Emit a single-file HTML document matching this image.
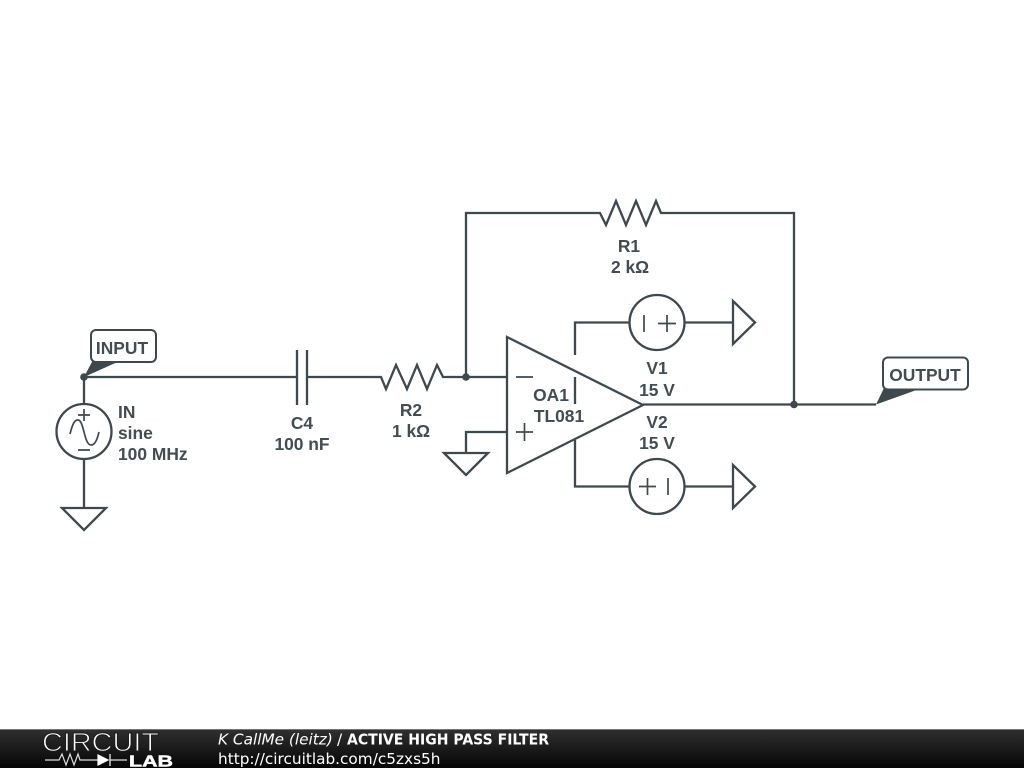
<!DOCTYPE html>
<html><head><meta charset="utf-8"><style>
html,body{margin:0;padding:0;background:#fff}
svg{display:block}
.w{fill:none;stroke:#3f484d;stroke-width:2.3;stroke-linejoin:miter}
.t{font-family:"Liberation Sans",sans-serif;font-size:17.4px;font-weight:bold;fill:#434c51;text-anchor:middle}
.l{text-anchor:start}
.f{font-family:"DejaVu Sans",sans-serif;font-size:15.3px;fill:#fff}
</style></head><body>
<svg width="1024" height="768" viewBox="0 0 1024 768" xmlns="http://www.w3.org/2000/svg">
<defs><linearGradient id="g" x1="0" y1="0" x2="0" y2="1"><stop offset="0" stop-color="#303030"/><stop offset="1" stop-color="#050505"/></linearGradient></defs>
<rect width="1024" height="768" fill="#fff"/>
<g class="w">
<path d="M84 377H297M297 350V405M307 350V405M307 377H381L386 389 396 365 407 389 417 365 427 389 437 365 443 377H507"/>
<path d="M466 377V213H600L606 225 616 201 626 225 636 201 646 225 656 201 661 213H794V404"/>
<path d="M643 404.500H876"/>
<path d="M507 337L643 405 507 473Z"/>
<path d="M507 432H466V453M444 453H488L466 475Z"/>
<path d="M575 355V322.500H630M684 322.500H733M733 301V344L755 322.500Z"/>
<path d="M575 377V404"/>
<path d="M575 440V486.500H630M684 486.500H733M733 465V508L755 486.500Z"/>
<circle cx="657" cy="322.500" r="27.500"/>
<circle cx="657" cy="486.500" r="27.500"/>
<path d="M84 377V404M84 459V508M62 508H106L84 530Z"/>
<circle cx="84" cy="431.500" r="27.500"/>
</g>
<g fill="none" stroke="#3f484d" stroke-width="1.700">
<path d="M516 377H533M516 432H533M524.500 423V441"/>
<path d="M644 315V332M658 323.500H676M667 315V332"/>
<path d="M639 486.500H656M647.500 478V495M668 478V495"/>
<path d="M78 415H90M84 409V421M78 450H90"/>
<path d="M70 434C73 422 75 420 78 420C84 420 84 445 91 445C95 445 97 440 99 432"/>
</g>
<g fill="#3f484d">
<circle cx="84" cy="377" r="3.800"/>
<circle cx="466" cy="377" r="3.800"/>
<circle cx="794" cy="404.500" r="3.800"/>
<path d="M84 377L93 360H122Z"/>
<path d="M876 404.500L884 388H922Z"/>
</g>
<rect x="91" y="330" width="65" height="32" rx="5" fill="#fff" stroke="#3f484d" stroke-width="2"/>
<rect x="883" y="357.500" width="85" height="32" rx="5" fill="#fff" stroke="#3f484d" stroke-width="2"/>
<text class="t" x="122" y="354">INPUT</text>
<text class="t" x="925" y="381">OUTPUT</text>
<text class="t l" x="118" y="418">IN</text>
<text class="t l" x="118" y="439">sine</text>
<text class="t l" x="118" y="460">100 MHz</text>
<text class="t" x="302" y="429">C4</text>
<text class="t" x="302" y="450">100 nF</text>
<text class="t" x="411" y="416">R2</text>
<text class="t" x="411" y="437">1 kΩ</text>
<text class="t" x="629" y="252">R1</text>
<text class="t" x="630" y="273">2 kΩ</text>
<text class="t" x="551" y="401">OA1</text>
<text class="t" x="559" y="422">TL081</text>
<text class="t" x="657" y="374">V1</text>
<text class="t" x="657" y="396">15 V</text>
<text class="t" x="657" y="428">V2</text>
<text class="t" x="657" y="449">15 V</text>
<rect x="0" y="729" width="1024" height="39" fill="url(#g)"/>
<rect x="0" y="729" width="1024" height="1" fill="#777"/>
<text x="42" y="751" font-family="Liberation Sans,sans-serif" font-size="26" fill="#fff" stroke="#1c1c1c" stroke-width="1" textLength="117" lengthAdjust="spacingAndGlyphs">CIRCUIT</text>
<path d="M45 760H59L62 754 66 765 70 754 74 765 78 754 80 760H98M110 760H127" fill="none" stroke="#ddd" stroke-width="1.200"/>
<path d="M98 755V765L108 760ZM110 754V766" fill="#fff" stroke="#fff" stroke-width="1.200"/>
<text x="129" y="766.500" font-family="Liberation Sans,sans-serif" font-size="16" font-weight="bold" fill="#fff" stroke="#fff" stroke-width=".5" textLength="44" lengthAdjust="spacingAndGlyphs">LAB</text>
<text class="f" x="218" y="744.500" font-style="italic">K CallMe (leitz)</text>
<text class="f" x="337" y="744.500">/</text>
<text class="f" x="347" y="744.500" font-weight="bold" textLength="202" lengthAdjust="spacingAndGlyphs">ACTIVE HIGH PASS FILTER</text>
<text class="f" x="218" y="764">http://circuitlab.com/c5zxs5h</text>
</svg>
</body></html>
